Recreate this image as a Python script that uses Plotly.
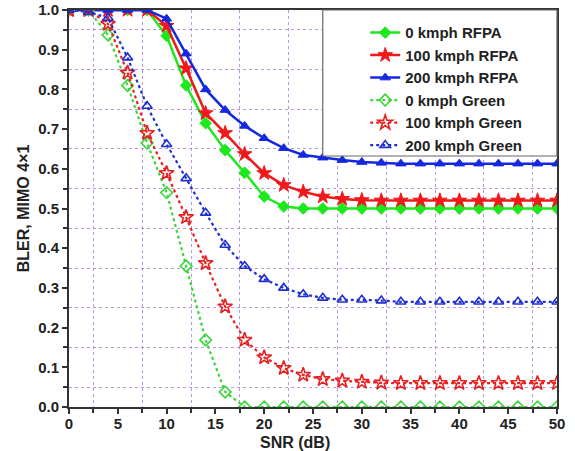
import plotly.graph_objects as go

snr = [0, 2, 4, 6, 8, 10, 12, 14, 16, 18, 20, 22, 24, 26, 28, 30, 32, 34, 36, 38, 40, 42, 44, 46, 48, 50]

rfpa_0 = [1, 1, 1, 1, 1, 0.935, 0.81, 0.715, 0.647, 0.59, 0.53, 0.505,
          0.5, 0.5, 0.5, 0.5, 0.5, 0.5, 0.5, 0.5, 0.5, 0.5, 0.5, 0.5, 0.5, 0.5]
rfpa_100 = [1, 1, 1, 1, 1, 0.96, 0.853, 0.74, 0.69, 0.637, 0.589, 0.559, 0.542, 0.53, 0.524, 0.521,
            0.52, 0.52, 0.52, 0.52, 0.52, 0.52, 0.52, 0.52, 0.52, 0.52]
rfpa_200 = [1, 1, 1, 1, 1, 0.978, 0.89, 0.80, 0.748, 0.708, 0.677, 0.652, 0.635, 0.628, 0.622, 0.617,
            0.615, 0.613, 0.613, 0.613, 0.613, 0.613, 0.613, 0.613, 0.613, 0.613]
green_0 = [1, 1, 0.937, 0.81, 0.665, 0.54, 0.355, 0.169, 0.038,
           0, 0, 0, 0, 0, 0, 0, 0, 0, 0, 0, 0, 0, 0, 0, 0, 0]
green_100 = [1, 1, 0.965, 0.842, 0.69, 0.589, 0.478, 0.362, 0.253, 0.169, 0.125, 0.098, 0.081, 0.07,
             0.066, 0.063, 0.061, 0.06, 0.06, 0.06, 0.06, 0.06, 0.06, 0.06, 0.06, 0.06]
green_200 = [1, 0.995, 0.98, 0.88, 0.758, 0.662, 0.576, 0.489, 0.408, 0.355, 0.322, 0.30, 0.284, 0.275,
             0.27, 0.27, 0.268, 0.265, 0.265, 0.265, 0.265, 0.265, 0.265, 0.265, 0.265, 0.265]

names = ["0 kmph RFPA", "100 kmph RFPA", "200 kmph RFPA",
         "0 kmph Green", "100 kmph Green", "200 kmph Green"]

FONT = "Liberation Sans, Arial, sans-serif"
fig = go.Figure()

solid = [(rfpa_0, "#1de81d", "diamond", 9), (rfpa_100, "#f01818", "star", 11), (rfpa_200, "#1428e0", "triangle-up", 9)]
dotted = [(green_0, "#3ad63a", "diamond-open", 9), (green_100, "#e82020", "star-open", 11), (green_200, "#2030d0", "triangle-up-open", 9)]

for (ys, c, sym, sz), nm in zip(solid, names[:3]):
    fig.add_trace(go.Scatter(x=snr, y=ys, name=nm, mode="lines+markers",
                             line=dict(color=c, width=2.5),
                             marker=dict(symbol=sym, size=sz, color=c, line=dict(color=c, width=1))))
for (ys, c, sym, sz), nm in zip(dotted, names[3:]):
    fig.add_trace(go.Scatter(x=snr, y=ys, name=nm, mode="lines+markers",
                             line=dict(color=c, width=2.2, dash="dot"),
                             marker=dict(symbol=sym, size=sz, color=c, line=dict(color=c, width=1.6))))

gridc = "rgba(165,115,220,0.75)"
axis_common = dict(showline=True, linecolor="#333333", linewidth=2, mirror=True,
                   ticks="outside", tickcolor="#333333", tickwidth=2, ticklen=5,
                   showgrid=False, zeroline=False, automargin=False, ticklabeloverflow="allow",
                   tickfont=dict(family=FONT, size=15, color="#222222", weight="bold"))

fig.update_xaxes(range=[0, 50], dtick=5, tick0=0, ticklabelstandoff=-3,
                 minor=dict(dtick=2.5, tick0=0, ticks="outside", ticklen=4, tickwidth=2, tickcolor="#333333",
                            showgrid=True, gridcolor=gridc, griddash="dot", gridwidth=1),
                 **axis_common)
fig.update_yaxes(range=[0, 1], dtick=0.1, tick0=0, tickformat=".1f",
                 minor=dict(dtick=0.05, tick0=0, ticks="outside", ticklen=4, tickwidth=2, tickcolor="#333333",
                            showgrid=True, gridcolor=gridc, griddash="dot", gridwidth=1),
                 title=dict(text="BLER, MIMO 4×1", font=dict(family=FONT, size=16, color="#222222", weight="bold"),
                            standoff=5),
                 **axis_common)

# legend frame (sits in the top-right corner of the plot)
fig.add_shape(type="rect", xref="paper", yref="paper", x0=0.52, x1=1.0, y0=1 - 146 / 397, y1=1.0,
              fillcolor="white", line=dict(color="#666666", width=1.2), layer="above")

fig.add_annotation(text="SNR (dB)", xref="paper", yref="paper", x=0.463, y=0, yshift=-35,
                   showarrow=False, yanchor="middle",
                   font=dict(family=FONT, size=16, color="#222222", weight="bold"))

fig.update_layout(
    width=575, height=451,
    margin=dict(l=69, r=18, t=10, b=44),
    plot_bgcolor="white", paper_bgcolor="white",
    showlegend=True,
    legend=dict(x=0.607, xanchor="left", y=0.984, yanchor="top",
                bgcolor="rgba(0,0,0,0)", borderwidth=0,
                font=dict(family=FONT, size=15, color="#222222", weight="bold"),
                tracegroupgap=0),
)

# remove the browser's default 8px page margin so the figure fills the window
fig.write_html("out.html", config={"displayModeBar": False},
               post_script="document.body.style.margin='0px';")
